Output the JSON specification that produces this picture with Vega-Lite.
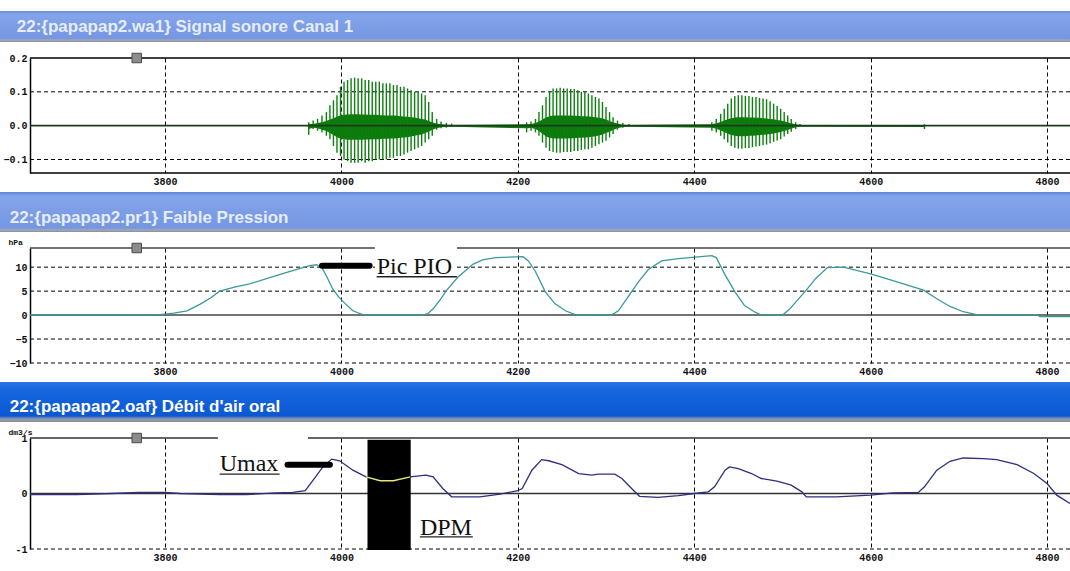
{
  "$schema": "https://vega.github.io/schema/vega-lite/v6.json",
  "padding": {"left": 0, "right": 0, "top": 11, "bottom": 0},
  "background": "white",
  "vconcat": [
    {
      "width": 1070, "height": 31,
      "layer": [
        {
          "data": {"values": [{"k": 1}]},
          "mark": {"type": "rect", "color": {"gradient": "linear", "x1": 0, "y1": 0, "x2": 0, "y2": 1, "stops": [{"offset": 0, "color": "#6a8fdc"}, {"offset": 0.12, "color": "#84a4ea"}, {"offset": 0.88, "color": "#7597e2"}, {"offset": 0.94, "color": "#a0a8b8"}, {"offset": 1, "color": "#8a8f99"}]}},
          "encoding": {}
        },
        {
          "data": {"values": [{"t": 3632, "label": "22:{papapap2.wa1} Signal sonore Canal 1"}]},
          "mark": {"type": "text", "align": "left", "baseline": "middle", "font": "Liberation Sans", "fontSize": 17, "fontWeight": "bold", "color": "#e6edfc"},
          "encoding": {"x": {"field": "t", "type": "quantitative", "scale": {"domain": [3613, 4826], "nice": false, "zero": false}, "axis": null}, "text": {"field": "label"}}
        }
      ]
    },
    {
      "width": 1070, "height": 115,
      "layer": [
        {
          "data": {"values": [{"t1": 3647, "t2": 4826, "v": -0.1}, {"t1": 3647, "t2": 4826, "v": 0.1}]},
          "mark": {"type": "rule", "color": "#000", "strokeWidth": 1, "strokeDash": [4, 3]},
          "encoding": {
            "x": {"field": "t1", "type": "quantitative", "scale": {"domain": [3613, 4826], "nice": false, "zero": false}, "axis": {"values": [3800, 4000, 4200, 4400, 4600, 4800], "format": "d", "title": null, "grid": true, "domain": false, "labelOverlap": false}},
            "x2": {"field": "t2"},
            "y": {"field": "v", "type": "quantitative", "scale": {"domain": [-0.14, 0.2], "nice": false, "zero": false}, "axis": {"values": [-0.1, 0, 0.1, 0.2], "tickCount": 10, "format": ".1f", "title": " ", "grid": false, "offset": -30, "labelOverlap": false, "labelBound": false}}
          }
        },
        {
          "data": {"values": [{"t1": 3647, "t2": 4826, "v": 0.2}, {"t1": 3647, "t2": 4826, "v": -0.14}]},
          "mark": {"type": "rule", "color": "#000", "strokeWidth": 1.5},
          "encoding": {"x": {"field": "t1", "type": "quantitative"}, "x2": {"field": "t2"}, "y": {"field": "v", "type": "quantitative"}}
        },
        {
          "data": {"name": "wave"},
          "mark": {"type": "area", "color": "#0c7a0c", "opacity": 1},
          "encoding": {
            "x": {"field": "t", "type": "quantitative"},
            "y": {"field": "clo", "type": "quantitative"},
            "y2": {"field": "chi"}
          }
        },
        {
          "data": {"name": "wave"},
          "mark": {"type": "rule", "color": "#0e7e0e", "strokeWidth": 1.4},
          "encoding": {
            "x": {"field": "t", "type": "quantitative"},
            "y": {"field": "lo", "type": "quantitative"},
            "y2": {"field": "hi"}
          }
        },
        {
          "data": {"values": [{"t1": 3647, "t2": 4826, "v": 0}]},
          "mark": {"type": "rule", "color": "#1e3a1e", "strokeWidth": 1.6},
          "encoding": {"x": {"field": "t1", "type": "quantitative"}, "x2": {"field": "t2"}, "y": {"field": "v", "type": "quantitative"}}
        },
        {
          "data": {"values": [{"t": 3768, "v": 0.2}]},
          "mark": {"type": "square", "size": 90, "filled": true, "color": "#8c8c8c", "stroke": "#4a4a4a", "strokeWidth": 1, "opacity": 1},
          "encoding": {"x": {"field": "t", "type": "quantitative"}, "y": {"field": "v", "type": "quantitative"}}
        }
      ]
    },
    {
      "width": 1070, "height": 40,
      "layer": [
        {
          "data": {"values": [{"k": 1}]},
          "mark": {"type": "rect", "color": {"gradient": "linear", "x1": 0, "y1": 0, "x2": 0, "y2": 1, "stops": [{"offset": 0, "color": "#5f84d6"}, {"offset": 0.1, "color": "#84a4ea"}, {"offset": 0.9, "color": "#7597e2"}, {"offset": 0.95, "color": "#a0a8b8"}, {"offset": 1, "color": "#8a8f99"}]}},
          "encoding": {}
        },
        {
          "data": {"values": [{"t": 3624, "label": "22:{papapap2.pr1} Faible Pression"}]},
          "mark": {"type": "text", "align": "left", "baseline": "middle", "dy": 6, "font": "Liberation Sans", "fontSize": 17, "fontWeight": "bold", "color": "#e6edfc"},
          "encoding": {"x": {"field": "t", "type": "quantitative", "scale": {"domain": [3613, 4826], "nice": false, "zero": false}, "axis": null}, "text": {"field": "label"}}
        }
      ]
    },
    {
      "width": 1070, "height": 115,
      "layer": [
        {
          "data": {"values": [{"t1": 3647, "t2": 4826, "v": -10}, {"t1": 3647, "t2": 4826, "v": -5}, {"t1": 3647, "t2": 4826, "v": 5}, {"t1": 3647, "t2": 4826, "v": 10}]},
          "mark": {"type": "rule", "color": "#000", "strokeWidth": 1, "strokeDash": [4, 3]},
          "encoding": {
            "x": {"field": "t1", "type": "quantitative", "scale": {"domain": [3613, 4826], "nice": false, "zero": false}, "axis": {"values": [3800, 4000, 4200, 4400, 4600, 4800], "format": "d", "title": null, "grid": true, "domain": false, "labelOverlap": false}},
            "x2": {"field": "t2"},
            "y": {"field": "v", "type": "quantitative", "scale": {"domain": [-10, 14], "nice": false, "zero": false}, "axis": {"values": [-10, -5, 0, 5, 10], "tickCount": 10, "format": "d", "title": "hPa", "grid": false, "offset": -30, "labelOverlap": false, "labelBound": false}}
          }
        },
        {
          "data": {"values": [{"t1": 3647, "t2": 4826, "v": 14}, {"t1": 3647, "t2": 4826, "v": 0}]},
          "mark": {"type": "rule", "color": "#444", "strokeWidth": 1.5},
          "encoding": {"x": {"field": "t1", "type": "quantitative"}, "x2": {"field": "t2"}, "y": {"field": "v", "type": "quantitative"}}
        },
        {
          "data": {"name": "pres"},
          "mark": {"type": "line", "color": "#3a9a9a", "strokeWidth": 1.3},
          "encoding": {"x": {"field": "t", "type": "quantitative"}, "y": {"field": "v", "type": "quantitative"}}
        },
        {
          "data": {"values": [{"t1": 4038, "t2": 4131, "v1": 7.8, "v2": 14.4}]},
          "mark": {"type": "rect", "color": "white"},
          "encoding": {"x": {"field": "t1", "type": "quantitative"}, "x2": {"field": "t2"}, "y": {"field": "v1", "type": "quantitative"}, "y2": {"field": "v2"}}
        },
        {
          "data": {"values": [{"t1": 3978, "t2": 4032, "v": 10.3}]},
          "mark": {"type": "rule", "color": "#000", "strokeWidth": 6, "strokeCap": "round"},
          "encoding": {"x": {"field": "t1", "type": "quantitative"}, "x2": {"field": "t2"}, "y": {"field": "v", "type": "quantitative"}}
        },
        {
          "data": {"values": [{"t1": 4040, "t2": 4131, "v": 8.0}]},
          "mark": {"type": "rule", "color": "#222", "strokeWidth": 1.3},
          "encoding": {"x": {"field": "t1", "type": "quantitative"}, "x2": {"field": "t2"}, "y": {"field": "v", "type": "quantitative"}}
        },
        {
          "data": {"values": [{"t": 4040, "v": 8.6, "label": "Pic PIO"}]},
          "mark": {"type": "text", "align": "left", "baseline": "alphabetic", "font": "Liberation Serif", "fontSize": 24, "color": "#111"},
          "encoding": {"x": {"field": "t", "type": "quantitative"}, "y": {"field": "v", "type": "quantitative"}, "text": {"field": "label"}}
        },
        {
          "data": {"values": [{"t": 3768, "v": 14}]},
          "mark": {"type": "square", "size": 90, "filled": true, "color": "#8c8c8c", "stroke": "#4a4a4a", "strokeWidth": 1, "opacity": 1},
          "encoding": {"x": {"field": "t", "type": "quantitative"}, "y": {"field": "v", "type": "quantitative"}}
        }
      ]
    },
    {
      "width": 1070, "height": 40,
      "layer": [
        {
          "data": {"values": [{"k": 1}]},
          "mark": {"type": "rect", "color": {"gradient": "linear", "x1": 0, "y1": 0, "x2": 0, "y2": 1, "stops": [{"offset": 0, "color": "#2f74e6"}, {"offset": 0.15, "color": "#1a68e0"}, {"offset": 0.85, "color": "#0a58d2"}, {"offset": 0.92, "color": "#8d9ab0"}, {"offset": 1, "color": "#8a8f99"}]}},
          "encoding": {}
        },
        {
          "data": {"values": [{"t": 3624, "label": "22:{papapap2.oaf} Débit d'air oral"}]},
          "mark": {"type": "text", "align": "left", "baseline": "middle", "dy": 5, "font": "Liberation Sans", "fontSize": 17, "fontWeight": "bold", "color": "#ffffff"},
          "encoding": {"x": {"field": "t", "type": "quantitative", "scale": {"domain": [3613, 4826], "nice": false, "zero": false}, "axis": null}, "text": {"field": "label"}}
        }
      ]
    },
    {
      "width": 1070, "height": 111,
      "layer": [
        {
          "data": {"values": [{"t1": 3647, "t2": 4826, "v": -1}]},
          "mark": {"type": "rule", "color": "#000", "strokeWidth": 1, "strokeDash": [4, 3]},
          "encoding": {
            "x": {"field": "t1", "type": "quantitative", "scale": {"domain": [3613, 4826], "nice": false, "zero": false}, "axis": {"values": [3800, 4000, 4200, 4400, 4600, 4800], "format": "d", "title": null, "grid": true, "domain": false, "labelOverlap": false}},
            "x2": {"field": "t2"},
            "y": {"field": "v", "type": "quantitative", "scale": {"domain": [-1, 1], "nice": false, "zero": false}, "axis": {"values": [-1, 0, 1], "tickCount": 10, "labelExpr": "datum.value > 0.5 ? '1' : (datum.value < -0.5 ? '-1' : '0')", "title": "dm3/s", "grid": false, "offset": -30, "labelOverlap": false, "labelBound": false}}
          }
        },
        {
          "data": {"values": [{"t1": 3647, "t2": 4826, "v": 1}, {"t1": 3647, "t2": 4826, "v": 0}]},
          "mark": {"type": "rule", "color": "#333", "strokeWidth": 1.5},
          "encoding": {"x": {"field": "t1", "type": "quantitative"}, "x2": {"field": "t2"}, "y": {"field": "v", "type": "quantitative"}}
        },
        {
          "data": {"name": "flow"},
          "mark": {"type": "line", "color": "#2e2e82", "strokeWidth": 1.3},
          "encoding": {"x": {"field": "t", "type": "quantitative"}, "y": {"field": "v", "type": "quantitative"}}
        },
        {
          "data": {"values": [{"t1": 4029.6, "t2": 4078.6, "v1": -1.02, "v2": 0.97}]},
          "mark": {"type": "rect", "color": "#000"},
          "encoding": {"x": {"field": "t1", "type": "quantitative"}, "x2": {"field": "t2"}, "y": {"field": "v1", "type": "quantitative"}, "y2": {"field": "v2"}}
        },
        {
          "data": {"name": "flow"},
          "transform": [{"filter": "datum.t >= 4028 && datum.t <= 4079"}],
          "mark": {"type": "line", "color": "#e6e67a", "strokeWidth": 1.3},
          "encoding": {"x": {"field": "t", "type": "quantitative"}, "y": {"field": "v", "type": "quantitative"}}
        },
        {
          "data": {"values": [{"t1": 3860, "t2": 3962, "v1": 0.33, "v2": 1.03}]},
          "mark": {"type": "rect", "color": "white"},
          "encoding": {"x": {"field": "t1", "type": "quantitative"}, "x2": {"field": "t2"}, "y": {"field": "v1", "type": "quantitative"}, "y2": {"field": "v2"}}
        },
        {
          "data": {"values": [{"t1": 3939, "t2": 3987, "v": 0.52}]},
          "mark": {"type": "rule", "color": "#000", "strokeWidth": 6, "strokeCap": "round"},
          "encoding": {"x": {"field": "t1", "type": "quantitative"}, "x2": {"field": "t2"}, "y": {"field": "v", "type": "quantitative"}}
        },
        {
          "data": {"values": [{"t1": 3862, "t2": 3930, "v": 0.35}, {"t1": 4089, "t2": 4149, "v": -0.78}]},
          "mark": {"type": "rule", "color": "#222", "strokeWidth": 1.3},
          "encoding": {"x": {"field": "t1", "type": "quantitative"}, "x2": {"field": "t2"}, "y": {"field": "v", "type": "quantitative"}}
        },
        {
          "data": {"values": [{"t": 3862, "v": 0.41, "label": "Umax"}, {"t": 4089, "v": -0.74, "label": "DPM"}]},
          "mark": {"type": "text", "align": "left", "baseline": "alphabetic", "font": "Liberation Serif", "fontSize": 24, "color": "#111"},
          "encoding": {"x": {"field": "t", "type": "quantitative"}, "y": {"field": "v", "type": "quantitative"}, "text": {"field": "label"}}
        },
        {
          "data": {"values": [{"t": 3768, "v": 1}]},
          "mark": {"type": "square", "size": 90, "filled": true, "color": "#8c8c8c", "stroke": "#4a4a4a", "strokeWidth": 1, "opacity": 1},
          "encoding": {"x": {"field": "t", "type": "quantitative"}, "y": {"field": "v", "type": "quantitative"}}
        }
      ]
    }
  ],
  "spacing": 6,
  "config": {
    "view": {"stroke": null},
    "axis": {"gridDash": [4, 3], "gridColor": "#000", "gridOpacity": 1, "gridWidth": 1, "ticks": false, "labelFont": "Liberation Mono", "labelFontSize": 10, "labelFontWeight": "bold", "labelColor": "#111", "labelFlush": false, "labelOverlap": false, "domainColor": "#000"},
    "axisX": {"labelPadding": 3},
    "axisY": {"labelPadding": 3, "domainWidth": 1.5, "titleAngle": 0, "titleAlign": "left", "titleBaseline": "bottom", "titleX": -22, "titleY": -2, "titleFont": "Liberation Mono", "titleFontSize": 8, "titleFontWeight": "bold", "titleColor": "#111", "titlePadding": 0}
  },
  "datasets": {
    "wave": [
      {"t": 3963, "hi": 0.010, "lo": -0.027, "chi": 0.005, "clo": -0.010},
      {"t": 3968, "hi": 0.015, "lo": -0.010, "chi": 0.005, "clo": -0.006},
      {"t": 3973, "hi": 0.020, "lo": -0.015, "chi": 0.008, "clo": -0.008},
      {"t": 3978, "hi": 0.030, "lo": -0.020, "chi": 0.010, "clo": -0.012},
      {"t": 3983, "hi": 0.040, "lo": -0.030, "chi": 0.014, "clo": -0.016},
      {"t": 3987, "hi": 0.060, "lo": -0.040, "chi": 0.018, "clo": -0.022},
      {"t": 3991, "hi": 0.075, "lo": -0.060, "chi": 0.022, "clo": -0.028},
      {"t": 3995, "hi": 0.090, "lo": -0.080, "chi": 0.026, "clo": -0.034},
      {"t": 3999, "hi": 0.115, "lo": -0.090, "chi": 0.030, "clo": -0.038},
      {"t": 4003, "hi": 0.130, "lo": -0.100, "chi": 0.032, "clo": -0.040},
      {"t": 4007, "hi": 0.135, "lo": -0.105, "chi": 0.033, "clo": -0.042},
      {"t": 4011, "hi": 0.140, "lo": -0.110, "chi": 0.034, "clo": -0.042},
      {"t": 4015, "hi": 0.142, "lo": -0.110, "chi": 0.034, "clo": -0.042},
      {"t": 4019, "hi": 0.140, "lo": -0.110, "chi": 0.034, "clo": -0.042},
      {"t": 4023, "hi": 0.140, "lo": -0.105, "chi": 0.033, "clo": -0.042},
      {"t": 4027, "hi": 0.135, "lo": -0.110, "chi": 0.033, "clo": -0.041},
      {"t": 4031, "hi": 0.135, "lo": -0.105, "chi": 0.032, "clo": -0.041},
      {"t": 4035, "hi": 0.130, "lo": -0.105, "chi": 0.032, "clo": -0.040},
      {"t": 4039, "hi": 0.130, "lo": -0.100, "chi": 0.032, "clo": -0.040},
      {"t": 4043, "hi": 0.130, "lo": -0.100, "chi": 0.031, "clo": -0.040},
      {"t": 4047, "hi": 0.125, "lo": -0.100, "chi": 0.031, "clo": -0.039},
      {"t": 4051, "hi": 0.125, "lo": -0.100, "chi": 0.030, "clo": -0.039},
      {"t": 4055, "hi": 0.125, "lo": -0.095, "chi": 0.030, "clo": -0.038},
      {"t": 4059, "hi": 0.120, "lo": -0.095, "chi": 0.030, "clo": -0.038},
      {"t": 4063, "hi": 0.120, "lo": -0.090, "chi": 0.029, "clo": -0.037},
      {"t": 4067, "hi": 0.115, "lo": -0.090, "chi": 0.028, "clo": -0.036},
      {"t": 4071, "hi": 0.115, "lo": -0.085, "chi": 0.027, "clo": -0.035},
      {"t": 4075, "hi": 0.110, "lo": -0.080, "chi": 0.026, "clo": -0.034},
      {"t": 4079, "hi": 0.105, "lo": -0.075, "chi": 0.025, "clo": -0.032},
      {"t": 4083, "hi": 0.100, "lo": -0.070, "chi": 0.024, "clo": -0.030},
      {"t": 4087, "hi": 0.100, "lo": -0.065, "chi": 0.022, "clo": -0.028},
      {"t": 4091, "hi": 0.095, "lo": -0.060, "chi": 0.020, "clo": -0.026},
      {"t": 4095, "hi": 0.090, "lo": -0.050, "chi": 0.018, "clo": -0.022},
      {"t": 4099, "hi": 0.070, "lo": -0.040, "chi": 0.014, "clo": -0.018},
      {"t": 4103, "hi": 0.040, "lo": -0.030, "chi": 0.010, "clo": -0.012},
      {"t": 4108, "hi": 0.020, "lo": -0.012, "chi": 0.006, "clo": -0.008},
      {"t": 4113, "hi": 0.012, "lo": -0.008, "chi": 0.004, "clo": -0.005},
      {"t": 4119, "hi": 0.008, "lo": -0.006, "chi": 0.003, "clo": -0.004},
      {"t": 4125, "hi": 0.006, "lo": -0.004, "chi": 0.002, "clo": -0.003},
      {"t": 4210, "hi": 0.010, "lo": -0.020, "chi": 0.004, "clo": -0.008},
      {"t": 4215, "hi": 0.012, "lo": -0.015, "chi": 0.005, "clo": -0.007},
      {"t": 4220, "hi": 0.020, "lo": -0.020, "chi": 0.008, "clo": -0.010},
      {"t": 4224, "hi": 0.040, "lo": -0.030, "chi": 0.012, "clo": -0.016},
      {"t": 4228, "hi": 0.060, "lo": -0.050, "chi": 0.018, "clo": -0.024},
      {"t": 4232, "hi": 0.085, "lo": -0.065, "chi": 0.024, "clo": -0.032},
      {"t": 4236, "hi": 0.100, "lo": -0.075, "chi": 0.028, "clo": -0.036},
      {"t": 4240, "hi": 0.110, "lo": -0.078, "chi": 0.030, "clo": -0.038},
      {"t": 4244, "hi": 0.110, "lo": -0.080, "chi": 0.030, "clo": -0.038},
      {"t": 4248, "hi": 0.112, "lo": -0.080, "chi": 0.030, "clo": -0.038},
      {"t": 4252, "hi": 0.110, "lo": -0.078, "chi": 0.030, "clo": -0.038},
      {"t": 4256, "hi": 0.110, "lo": -0.078, "chi": 0.030, "clo": -0.038},
      {"t": 4260, "hi": 0.108, "lo": -0.078, "chi": 0.030, "clo": -0.037},
      {"t": 4264, "hi": 0.108, "lo": -0.075, "chi": 0.029, "clo": -0.037},
      {"t": 4268, "hi": 0.105, "lo": -0.075, "chi": 0.029, "clo": -0.036},
      {"t": 4272, "hi": 0.100, "lo": -0.072, "chi": 0.028, "clo": -0.036},
      {"t": 4276, "hi": 0.100, "lo": -0.070, "chi": 0.028, "clo": -0.035},
      {"t": 4280, "hi": 0.095, "lo": -0.070, "chi": 0.027, "clo": -0.034},
      {"t": 4284, "hi": 0.090, "lo": -0.065, "chi": 0.026, "clo": -0.033},
      {"t": 4288, "hi": 0.085, "lo": -0.060, "chi": 0.025, "clo": -0.031},
      {"t": 4292, "hi": 0.080, "lo": -0.055, "chi": 0.023, "clo": -0.029},
      {"t": 4296, "hi": 0.070, "lo": -0.050, "chi": 0.021, "clo": -0.026},
      {"t": 4300, "hi": 0.055, "lo": -0.045, "chi": 0.018, "clo": -0.022},
      {"t": 4304, "hi": 0.040, "lo": -0.035, "chi": 0.014, "clo": -0.018},
      {"t": 4308, "hi": 0.025, "lo": -0.025, "chi": 0.010, "clo": -0.013},
      {"t": 4313, "hi": 0.015, "lo": -0.012, "chi": 0.006, "clo": -0.008},
      {"t": 4319, "hi": 0.008, "lo": -0.006, "chi": 0.003, "clo": -0.004},
      {"t": 4326, "hi": 0.005, "lo": -0.004, "chi": 0.002, "clo": -0.003},
      {"t": 4420, "hi": 0.010, "lo": -0.015, "chi": 0.004, "clo": -0.006},
      {"t": 4425, "hi": 0.020, "lo": -0.020, "chi": 0.007, "clo": -0.009},
      {"t": 4430, "hi": 0.035, "lo": -0.030, "chi": 0.011, "clo": -0.014},
      {"t": 4434, "hi": 0.050, "lo": -0.040, "chi": 0.015, "clo": -0.019},
      {"t": 4438, "hi": 0.065, "lo": -0.050, "chi": 0.019, "clo": -0.024},
      {"t": 4442, "hi": 0.080, "lo": -0.060, "chi": 0.022, "clo": -0.028},
      {"t": 4446, "hi": 0.088, "lo": -0.065, "chi": 0.024, "clo": -0.030},
      {"t": 4450, "hi": 0.090, "lo": -0.068, "chi": 0.025, "clo": -0.031},
      {"t": 4454, "hi": 0.090, "lo": -0.068, "chi": 0.025, "clo": -0.031},
      {"t": 4458, "hi": 0.088, "lo": -0.066, "chi": 0.025, "clo": -0.031},
      {"t": 4462, "hi": 0.088, "lo": -0.066, "chi": 0.024, "clo": -0.030},
      {"t": 4466, "hi": 0.085, "lo": -0.064, "chi": 0.024, "clo": -0.030},
      {"t": 4470, "hi": 0.085, "lo": -0.062, "chi": 0.023, "clo": -0.029},
      {"t": 4474, "hi": 0.082, "lo": -0.060, "chi": 0.023, "clo": -0.028},
      {"t": 4478, "hi": 0.080, "lo": -0.058, "chi": 0.022, "clo": -0.027},
      {"t": 4482, "hi": 0.078, "lo": -0.056, "chi": 0.021, "clo": -0.026},
      {"t": 4486, "hi": 0.072, "lo": -0.052, "chi": 0.020, "clo": -0.025},
      {"t": 4490, "hi": 0.065, "lo": -0.048, "chi": 0.019, "clo": -0.023},
      {"t": 4494, "hi": 0.058, "lo": -0.044, "chi": 0.017, "clo": -0.021},
      {"t": 4498, "hi": 0.050, "lo": -0.040, "chi": 0.015, "clo": -0.019},
      {"t": 4502, "hi": 0.040, "lo": -0.032, "chi": 0.013, "clo": -0.016},
      {"t": 4506, "hi": 0.030, "lo": -0.025, "chi": 0.010, "clo": -0.013},
      {"t": 4510, "hi": 0.020, "lo": -0.018, "chi": 0.007, "clo": -0.009},
      {"t": 4515, "hi": 0.010, "lo": -0.010, "chi": 0.004, "clo": -0.005},
      {"t": 4520, "hi": 0.005, "lo": -0.004, "chi": 0.002, "clo": -0.003},
      {"t": 4661, "hi": 0.004, "lo": -0.010, "chi": 0.002, "clo": -0.004}
    ],
    "pres": [
      {"t": 3647, "v": 0}, {"t": 3700, "v": 0}, {"t": 3772, "v": 0}, {"t": 3794, "v": 0.1},
      {"t": 3810, "v": 0.4}, {"t": 3825, "v": 0.9}, {"t": 3840, "v": 2.3}, {"t": 3852, "v": 3.6},
      {"t": 3862, "v": 5.0}, {"t": 3880, "v": 5.9}, {"t": 3896, "v": 6.5}, {"t": 3915, "v": 7.6},
      {"t": 3942, "v": 9.1}, {"t": 3964, "v": 10.3}, {"t": 3972, "v": 10.5}, {"t": 3978, "v": 9.9},
      {"t": 3984, "v": 7.8}, {"t": 3990, "v": 5.5}, {"t": 3996, "v": 4.0}, {"t": 4002, "v": 2.8},
      {"t": 4013, "v": 0.9}, {"t": 4024, "v": 0.1}, {"t": 4030, "v": 0}, {"t": 4092, "v": 0},
      {"t": 4098, "v": 0.3}, {"t": 4104, "v": 1.3}, {"t": 4112, "v": 3.2}, {"t": 4119, "v": 5.1},
      {"t": 4132, "v": 7.9}, {"t": 4149, "v": 10.6}, {"t": 4160, "v": 11.5}, {"t": 4175, "v": 12.0},
      {"t": 4206, "v": 12.2}, {"t": 4212, "v": 11.3}, {"t": 4220, "v": 9.1}, {"t": 4231, "v": 4.9},
      {"t": 4242, "v": 2.4}, {"t": 4254, "v": 0.9}, {"t": 4265, "v": 0.1}, {"t": 4269, "v": 0},
      {"t": 4306, "v": 0}, {"t": 4314, "v": 0.9}, {"t": 4325, "v": 3.8}, {"t": 4337, "v": 7.0},
      {"t": 4348, "v": 9.5}, {"t": 4363, "v": 11.3}, {"t": 4382, "v": 11.8}, {"t": 4401, "v": 12.1},
      {"t": 4420, "v": 12.4}, {"t": 4425, "v": 12.0}, {"t": 4435, "v": 8.4}, {"t": 4446, "v": 4.9},
      {"t": 4457, "v": 2.0}, {"t": 4469, "v": 0.6}, {"t": 4476, "v": 0}, {"t": 4500, "v": 0},
      {"t": 4508, "v": 1.2}, {"t": 4515, "v": 2.7}, {"t": 4527, "v": 5.2}, {"t": 4538, "v": 7.7},
      {"t": 4551, "v": 9.9}, {"t": 4569, "v": 10.0}, {"t": 4600, "v": 8.6}, {"t": 4629, "v": 7.0},
      {"t": 4660, "v": 5.2}, {"t": 4675, "v": 3.4}, {"t": 4690, "v": 1.8}, {"t": 4705, "v": 0.7},
      {"t": 4720, "v": 0.1}, {"t": 4739, "v": 0}, {"t": 4789, "v": 0}, {"t": 4792, "v": -0.3},
      {"t": 4826, "v": -0.3}
    ],
    "flow": [
      {"t": 3647, "v": -0.02}, {"t": 3700, "v": -0.02}, {"t": 3740, "v": 0.0}, {"t": 3770, "v": 0.02},
      {"t": 3800, "v": 0.02}, {"t": 3817, "v": 0.0}, {"t": 3862, "v": -0.02}, {"t": 3892, "v": -0.02},
      {"t": 3926, "v": 0.01}, {"t": 3945, "v": 0.02}, {"t": 3959, "v": 0.05}, {"t": 3968, "v": 0.24},
      {"t": 3979, "v": 0.48}, {"t": 3989, "v": 0.62}, {"t": 3998, "v": 0.59}, {"t": 4013, "v": 0.42},
      {"t": 4028, "v": 0.30}, {"t": 4044, "v": 0.23}, {"t": 4059, "v": 0.23}, {"t": 4078, "v": 0.30},
      {"t": 4096, "v": 0.33}, {"t": 4104, "v": 0.30}, {"t": 4115, "v": 0.09}, {"t": 4125, "v": -0.06},
      {"t": 4157, "v": -0.06}, {"t": 4180, "v": -0.01}, {"t": 4200, "v": 0.05}, {"t": 4205, "v": 0.09},
      {"t": 4216, "v": 0.42}, {"t": 4227, "v": 0.61}, {"t": 4235, "v": 0.59}, {"t": 4250, "v": 0.52},
      {"t": 4269, "v": 0.36}, {"t": 4284, "v": 0.33}, {"t": 4291, "v": 0.35}, {"t": 4310, "v": 0.35},
      {"t": 4318, "v": 0.27}, {"t": 4329, "v": 0.09}, {"t": 4338, "v": -0.05}, {"t": 4359, "v": -0.07},
      {"t": 4382, "v": -0.04}, {"t": 4400, "v": 0}, {"t": 4416, "v": 0.03}, {"t": 4423, "v": 0.12},
      {"t": 4435, "v": 0.42}, {"t": 4440, "v": 0.48}, {"t": 4450, "v": 0.45}, {"t": 4465, "v": 0.36},
      {"t": 4476, "v": 0.27}, {"t": 4484, "v": 0.25}, {"t": 4495, "v": 0.22}, {"t": 4510, "v": 0.15},
      {"t": 4522, "v": 0.03}, {"t": 4527, "v": -0.06}, {"t": 4561, "v": -0.06}, {"t": 4600, "v": -0.03},
      {"t": 4625, "v": 0.01}, {"t": 4654, "v": 0.02}, {"t": 4661, "v": 0.12}, {"t": 4675, "v": 0.42},
      {"t": 4690, "v": 0.58}, {"t": 4705, "v": 0.64}, {"t": 4728, "v": 0.63}, {"t": 4743, "v": 0.61},
      {"t": 4766, "v": 0.52}, {"t": 4785, "v": 0.36}, {"t": 4800, "v": 0.18}, {"t": 4811, "v": -0.03},
      {"t": 4826, "v": -0.18}
    ]
  }
}
